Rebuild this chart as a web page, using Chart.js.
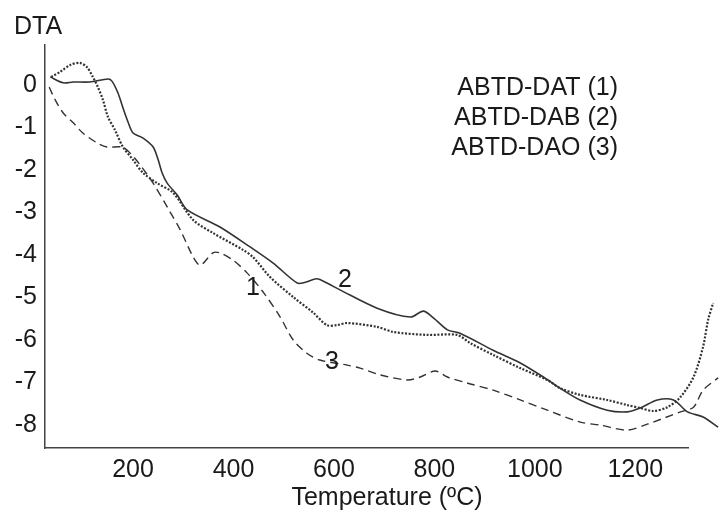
<!DOCTYPE html>
<html>

<head>
    <title>DTA</title>
    <!-- Chart JS -->
    <script src="https://cdn.jsdelivr.net/npm/chart.js@4.4.0/dist/chart.umd.min.js"></script>
    <style>
        body { margin: 0; background: #fff; }
    </style>
</head>

<body>
    <canvas id="myChart" width="719" height="513"></canvas>
    <script>

        // ABTD-DAT (1), dotted
        var datX = [37, 55, 75, 94, 108, 120, 130, 140, 150, 164, 180, 200, 220, 248, 280, 320, 359, 419, 439, 473, 519, 559, 586, 606, 626, 686, 718, 786, 845, 871, 917, 971, 1025, 1050, 1090, 1144, 1184, 1210, 1236, 1264, 1290, 1316, 1335, 1345, 1355];
        var datY = [0.19, 0.31, 0.47, 0.52, 0.42, 0.19, -0.05, -0.35, -0.75, -1.06, -1.46, -1.76, -2.07, -2.31, -2.54, -3.18, -3.48, -3.88, -4.05, -4.52, -4.99, -5.36, -5.65, -5.65, -5.60, -5.69, -5.81, -5.88, -5.88, -6.07, -6.35, -6.66, -6.94, -7.13, -7.29, -7.41, -7.53, -7.60, -7.67, -7.58, -7.34, -6.87, -6.16, -5.53, -5.13];

        // ABTD-DAB (2), solid
        var dabX = [35, 61, 81, 114, 150, 158, 170, 180, 190, 200, 220, 240, 250, 258, 268, 288, 308, 373, 433, 479, 527, 543, 566, 586, 612, 686, 752, 778, 798, 826, 851, 917, 971, 1017, 1050, 1090, 1144, 1184, 1210, 1244, 1276, 1304, 1335, 1365];
        var dabY = [0.19, 0.05, 0.07, 0.07, 0.14, 0.09, -0.19, -0.54, -0.87, -1.13, -1.25, -1.46, -1.76, -2.07, -2.31, -2.59, -2.94, -3.34, -3.81, -4.19, -4.66, -4.64, -4.56, -4.66, -4.82, -5.25, -5.46, -5.32, -5.48, -5.76, -5.84, -6.24, -6.54, -6.87, -7.13, -7.41, -7.65, -7.69, -7.60, -7.41, -7.41, -7.69, -7.81, -8.05];

        // ABTD-DAO (3), dashed
        var daoX = [33, 45, 61, 81, 100, 128, 148, 178, 194, 214, 240, 268, 294, 320, 334, 359, 373, 399, 427, 459, 493, 519, 546, 572, 626, 652, 692, 746, 772, 802, 826, 865, 917, 971, 1025, 1090, 1130, 1184, 1224, 1290, 1316, 1335, 1365];
        var daoY = [-0.05, -0.35, -0.66, -0.89, -1.13, -1.36, -1.46, -1.46, -1.60, -1.88, -2.31, -2.87, -3.41, -4.05, -4.24, -3.95, -3.95, -4.12, -4.42, -4.87, -5.46, -6.00, -6.31, -6.47, -6.59, -6.66, -6.82, -6.94, -6.87, -6.73, -6.87, -7.01, -7.18, -7.41, -7.65, -7.93, -8.00, -8.12, -7.98, -7.69, -7.58, -7.18, -6.89];

        var xTicks = [200, 400, 600, 800, 1000, 1200];
        var yTicks = [0, -1, -2, -3, -4, -5, -6, -7, -8];

        var legendNames = ['ABTD-DAT (1)', 'ABTD-DAB (2)', 'ABTD-DAO (3)'];
        var curveTags = ['1', '2', '3'];
        var tagX = [439, 622, 596];
        var tagY = [-4.78, -4.59, -6.52];

        var FONT = '"Liberation Sans", Arial, Helvetica, sans-serif';
        var INK = '#1a1a1a';
        var LINE = '#333';

        function toPoints(xs, ys) {
            return xs.map(function (x, i) { return { x: x, y: ys[i] }; });
        }

        // axis titles, legend text and curve numbers
        var textLabels = {
            id: 'textLabels',
            afterDatasetsDraw: function (chart) {
                var ctx = chart.ctx;
                var area = chart.chartArea;
                var xs = chart.scales.x, ys = chart.scales.y;
                ctx.save();
                ctx.fillStyle = INK;
                ctx.font = '25px ' + FONT;
                ctx.textBaseline = 'middle';

                ctx.textAlign = 'left';
                ctx.fillText('DTA', area.left - 31, area.top - 18);

                ctx.textAlign = 'center';
                ctx.fillText('Temperature (ºC)', area.left + 342, area.bottom + 50);

                for (var i = 0; i < curveTags.length; i++) {
                    ctx.fillText(curveTags[i], xs.getPixelForValue(tagX[i]), ys.getPixelForValue(tagY[i]));
                }

                ctx.textAlign = 'right';
                for (var j = 0; j < legendNames.length; j++) {
                    ctx.fillText(legendNames[j], area.right - 70, area.top + 43 + j * 30);
                }
                ctx.restore();
            }
        };

        var ctx = document.getElementById('myChart').getContext('2d');
        var chart = new Chart(ctx, {
            type: 'line',
            data: {
                datasets: [{
                    label: legendNames[0],
                    data: toPoints(datX, datY),
                    borderColor: LINE,
                    borderWidth: 2.2,
                    borderDash: [2, 1.6],
                    pointRadius: 0,
                    tension: 0.3,
                    clip: false
                }, {
                    label: legendNames[1],
                    data: toPoints(dabX, dabY),
                    borderColor: LINE,
                    borderWidth: 1.6,
                    pointRadius: 0,
                    tension: 0.3,
                    clip: false
                }, {
                    label: legendNames[2],
                    data: toPoints(daoX, daoY),
                    borderColor: LINE,
                    borderWidth: 1.4,
                    borderDash: [8, 5],
                    pointRadius: 0,
                    tension: 0.3,
                    clip: false
                }]
            },
            options: {
                responsive: false,
                animation: false,
                layout: { padding: { left: 0, top: 45, right: 31, bottom: 0 } },
                plugins: {
                    legend: { display: false },
                    tooltip: { enabled: false }
                },
                scales: {
                    x: {
                        type: 'linear',
                        bounds: 'data',
                        // range set here so curves past the axis end are still drawn
                        afterDataLimits: function (scale) {
                            scale.min = 24.7;
                            scale.max = 1305;
                        },
                        grid: { display: false, drawTicks: false },
                        border: { color: '#444', width: 1.5 },
                        afterBuildTicks: function (scale) {
                            scale.ticks = xTicks.map(function (v) { return { value: v }; });
                        },
                        afterFit: function (scale) { scale.height = 65; },
                        ticks: {
                            color: INK,
                            font: { family: FONT, size: 25 },
                            padding: 7,
                            maxRotation: 0,
                            autoSkip: false,
                            callback: function (v) { return String(v); }
                        }
                    },
                    y: {
                        type: 'linear',
                        min: -8.54,
                        max: 0.94,
                        grid: { display: false, drawTicks: false },
                        border: { color: '#444', width: 1.5 },
                        afterBuildTicks: function (scale) {
                            scale.ticks = yTicks.map(function (v) { return { value: v }; });
                        },
                        afterFit: function (scale) { scale.width = 45; },
                        ticks: {
                            color: INK,
                            font: { family: FONT, size: 25 },
                            padding: 8,
                            autoSkip: false,
                            callback: function (v) { return String(v); }
                        }
                    }
                }
            },
            plugins: [textLabels]
        });
    </script>

</body>

</html>
